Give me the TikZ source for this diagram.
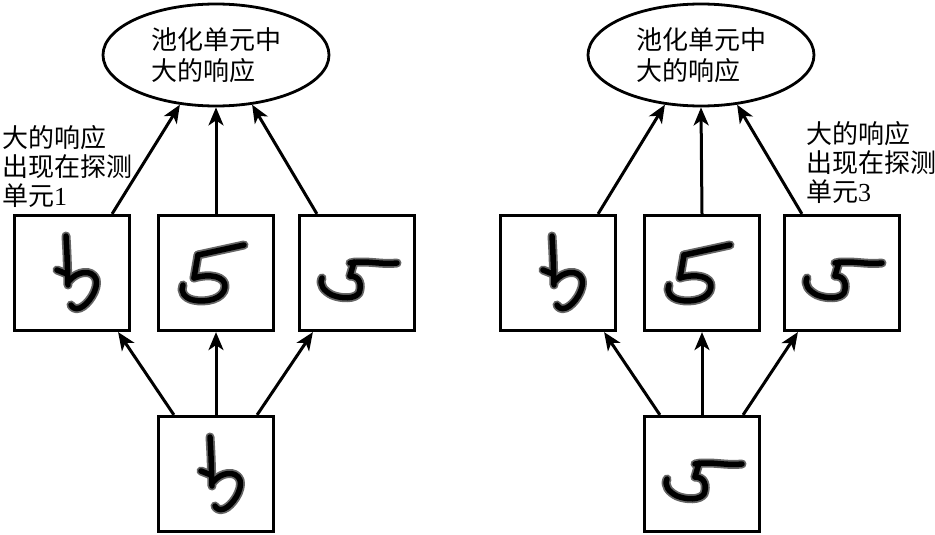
\documentclass[tikz,border=0pt]{standalone}
\usepackage{fontspec}
\setmainfont{Liberation Serif}
\newfontfamily\cjk{Noto Sans CJK SC}
\usetikzlibrary{shapes.geometric,arrows.meta}
\begin{document}
\begin{tikzpicture}[x=1pt,y=-1pt,
  box/.style={draw,line width=3.2pt,minimum width=115pt,minimum height=115pt,inner sep=0pt},
  pool/.style={draw,ellipse,line width=2.8pt,minimum width=226pt,minimum height=102pt,inner sep=0pt,align=left,font=\fontsize{26}{31}\selectfont\cjk},
  lbl/.style={inner sep=0pt,align=left,font=\fontsize{26}{29}\selectfont\cjk},
  arr/.style={line width=3pt,-{Stealth[length=18pt,width=15pt,inset=5pt]}},
  ink/.style={line width=9pt,black!60,line cap=round,line join=round},
  inkc/.style={line width=5.5pt,black,line cap=round,line join=round},
  dsix/.pic={
    \foreach \s in {ink,inkc}{
      \draw[\s] (-6,-37) .. controls (-5,-20) .. (-4,12);
      \draw[\s] (-15,-3) -- (-5,1);
      \draw[\s] (-3,8) .. controls (5,-2) and (20,-4) .. (24,6) .. controls (27,16) and (16,32) .. (8,35) .. controls (3,37) and (0,34) .. (-1,32);
    }
  },
  dfive/.pic={
    \foreach \s in {ink,inkc}{
      \draw[\s] (-18,-18) -- (28,-28);
      \draw[\s] (-18,-18) -- (-22,5);
      \draw[\s] (-22,5) .. controls (-5,0) and (10,4) .. (9,14) .. controls (8,26) and (-10,30) .. (-23,27) .. controls (-32,25) and (-36,18) .. (-33,12);
    }
  },
  dfivet/.pic={
    \foreach \s in {ink,inkc}{
      \draw[\s] (-7,-10) .. controls (10,-13) and (25,-8) .. (40,-10);
      \draw[\s] (-3,-11) -- (-7,3);
      \draw[\s] (-7,3) .. controls (3,3) and (5,12) .. (2,20) .. controls (-2,26) and (-15,26) .. (-25,22) .. controls (-33,18) and (-38,12) .. (-35,5);
    }
  }
]
\useasboundingbox (0,0) rectangle (935,535);

% left group
\node[pool] (Lp) at (216,55) {池化单元中\\大的响应};
\node[box] (L1) at (72,273) {};
\node[box] (L2) at (216,273) {};
\node[box] (L3) at (357,273) {};
\node[box] (L0) at (216,474) {};
\pic at (L1) {dsix};
\pic at (L2) {dfive};
\pic at (L3) {dfivet};
\pic at (L0) {dsix};
\draw[arr] ([xshift=-19pt]L1.north east) -- (Lp.234);
\draw[arr] (L2.north) -- (Lp.south);
\draw[arr] ([xshift=19pt]L3.north west) -- (Lp.306);
\draw[arr] ([xshift=17pt]L0.north west) -- ([xshift=-13pt]L1.south east);
\draw[arr] (L0.north) -- (L2.south);
\draw[arr] ([xshift=-18pt]L0.north east) -- ([xshift=15pt]L3.south west);
\node[lbl,anchor=west] (Ll) at (2,167) {大的响应\\出现在探测\\单元{\rmfamily 1}};

% right group
\node[pool] (Rp) at (701,55) {池化单元中\\大的响应};
\node[box] (R1) at (558,273) {};
\node[box] (R2) at (702,273) {};
\node[box] (R3) at (842,273) {};
\node[box] (R0) at (702,474) {};
\pic at (R1) {dsix};
\pic at (R2) {dfive};
\pic at (R3) {dfivet};
\pic at (R0) {dfivet};
\draw[arr] ([xshift=-19pt]R1.north east) -- (Rp.234);
\draw[arr] (R2.north) -- (Rp.south);
\draw[arr] ([xshift=19pt]R3.north west) -- (Rp.306);
\draw[arr] ([xshift=17pt]R0.north west) -- ([xshift=-13pt]R1.south east);
\draw[arr] (R0.north) -- (R2.south);
\draw[arr] ([xshift=-18pt]R0.north east) -- ([xshift=15pt]R3.south west);
\node[lbl,anchor=west] (Rl) at (806,163) {大的响应\\出现在探测\\单元{\rmfamily 3}};
\end{tikzpicture}
\end{document}
